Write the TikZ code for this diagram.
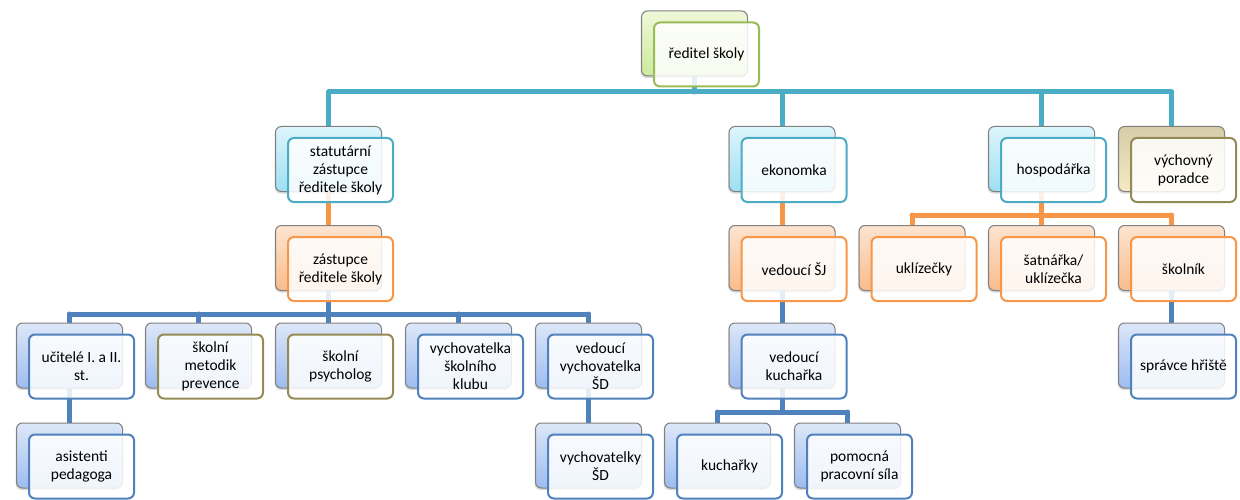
\documentclass[tikz,border=0pt]{standalone}
\usepackage{fontspec}
\setmainfont{Carlito}
\usetikzlibrary{backgrounds, shadows}

\definecolor{tealc}{HTML}{4BACC6}
\definecolor{orangec}{HTML}{F79646}
\definecolor{bluec}{HTML}{4F81BD}
\definecolor{greenc}{HTML}{9BBB59}
\definecolor{olivec}{HTML}{948A54}
\definecolor{tealtop}{HTML}{DDF5FC}
\definecolor{tealbot}{HTML}{9EDFF2}
\definecolor{orangetop}{HTML}{FDE4D0}
\definecolor{orangebot}{HTML}{F9BC8C}
\definecolor{bluetop}{HTML}{DDE7F8}
\definecolor{bluebot}{HTML}{9DBCF0}
\definecolor{greentop}{HTML}{EFF8D9}
\definecolor{greenbot}{HTML}{CCEA9C}
\definecolor{olivetop}{HTML}{D6CCA8}
\definecolor{olivebot}{HTML}{F6EAC4}

\begin{document}
\begin{tikzpicture}[x=1pt, y=-1pt,
          every node/.style={font=\fontsize{15.5}{18}\selectfont, align=center},
          backbox/.style 2 args={rectangle, rounded corners=6pt, draw=gray, line width=1pt,
            top color=#1, bottom color=#2, minimum width=106pt, minimum height=65pt,
            drop shadow={shadow xshift=-1pt, shadow yshift=-2pt, opacity=.3}},
          frontbox/.style={rectangle, rounded corners=6pt, draw=#1, line width=2pt,
            fill=white, fill opacity=.85, text opacity=1,
            minimum width=105pt, minimum height=64pt, inner sep=2pt},
          link/.style={line width=5pt, draw=#1, line cap=round},
        ]
          \useasboundingbox (0,0) rectangle (1240,500);
          % bus levels
          \coordinate (b1) at (0,92);
          \coordinate (b2) at (0,215);
          \coordinate (b3) at (0,314);
          \coordinate (b4) at (0,412);

          % back boxes
          \node[backbox={greentop}{greenbot}]   (red)   at (694.5, 43.5) {};
          \node[backbox={tealtop}{tealbot}]     (stat)  at (328.5,159)   {};
          \node[backbox={orangetop}{orangebot}] (zast)  at (328.5,258)   {};
          \node[backbox={bluetop}{bluebot}]     (ucit)  at (69.5, 355.5) {};
          \node[backbox={bluetop}{bluebot}]     (metod) at (198.5,355.5) {};
          \node[backbox={bluetop}{bluebot}]     (psych) at (328.5,355.5) {};
          \node[backbox={bluetop}{bluebot}]     (klub)  at (458.5,355.5) {};
          \node[backbox={bluetop}{bluebot}]     (vedv)  at (588.5,355.5) {};
          \node[backbox={bluetop}{bluebot}]     (asist) at (69.5, 455.5) {};
          \node[backbox={bluetop}{bluebot}]     (vychd) at (588.5,455.5) {};
          \node[backbox={tealtop}{tealbot}]     (ekon)  at (782,  159)   {};
          \node[backbox={orangetop}{orangebot}] (vedsj) at (782,  258)   {};
          \node[backbox={bluetop}{bluebot}]     (vedk)  at (782,  355.5) {};
          \node[backbox={bluetop}{bluebot}]     (kuch)  at (717.5,455.5) {};
          \node[backbox={bluetop}{bluebot}]     (pomoc) at (847.5,455.5) {};
          \node[backbox={tealtop}{tealbot}]     (hosp)  at (1041.5,159)  {};
          \node[backbox={olivetop}{olivebot}]   (vpor)  at (1171.5,159)  {};
          \node[backbox={orangetop}{orangebot}] (ukl)   at (912,  258)   {};
          \node[backbox={orangetop}{orangebot}] (satn)  at (1041.5,258)  {};
          \node[backbox={orangetop}{orangebot}] (skol)  at (1171.5,258)  {};
          \node[backbox={bluetop}{bluebot}]     (sprav) at (1171.5,355.5){};

          % front boxes
          \node[frontbox=greenc]  (red-t)   at ([shift={(12,11)}]red)   {ředitel školy};
          \node[frontbox=tealc]   (stat-t)  at ([shift={(12,11)}]stat)  {statutární\\zástupce\\ředitele školy};
          \node[frontbox=orangec] (zast-t)  at ([shift={(12,11)}]zast)  {zástupce\\ředitele školy};
          \node[frontbox=bluec]   (ucit-t)  at ([shift={(12,11)}]ucit)  {učitelé I. a II.\\st.};
          \node[frontbox=olivec]  (metod-t) at ([shift={(12,11)}]metod) {školní\\metodik\\prevence};
          \node[frontbox=olivec]  (psych-t) at ([shift={(12,11)}]psych) {školní\\psycholog};
          \node[frontbox=bluec]   (klub-t)  at ([shift={(12,11)}]klub)  {vychovatelka\\školního\\klubu};
          \node[frontbox=bluec]   (vedv-t)  at ([shift={(12,11)}]vedv)  {vedoucí\\vychovatelka\\ŠD};
          \node[frontbox=bluec]   (asist-t) at ([shift={(12,11)}]asist) {asistenti\\pedagoga};
          \node[frontbox=bluec]   (vychd-t) at ([shift={(12,11)}]vychd) {vychovatelky\\ŠD};
          \node[frontbox=tealc]   (ekon-t)  at ([shift={(12,11)}]ekon)  {ekonomka};
          \node[frontbox=orangec] (vedsj-t) at ([shift={(12,11)}]vedsj) {vedoucí ŠJ};
          \node[frontbox=bluec]   (vedk-t)  at ([shift={(12,11)}]vedk)  {vedoucí\\kuchařka};
          \node[frontbox=bluec]   (kuch-t)  at ([shift={(12,11)}]kuch)  {kuchařky};
          \node[frontbox=bluec]   (pomoc-t) at ([shift={(12,11)}]pomoc) {pomocná\\pracovní síla};
          \node[frontbox=tealc]   (hosp-t)  at ([shift={(12,11)}]hosp)  {hospodářka};
          \node[frontbox=olivec]  (vpor-t)  at ([shift={(12,11)}]vpor)  {výchovný\\poradce};
          \node[frontbox=orangec] (ukl-t)   at ([shift={(12,11)}]ukl)   {uklízečky};
          \node[frontbox=orangec] (satn-t)  at ([shift={(12,11)}]satn)  {šatnářka/\\uklízečka};
          \node[frontbox=orangec] (skol-t)  at ([shift={(12,11)}]skol)  {školník};
          \node[frontbox=bluec]   (sprav-t) at ([shift={(12,11)}]sprav) {správce hřiště};

          \begin{scope}[on background layer]
            % top level
            \draw[link=tealc] (red.center) -- (red |- b1);
            \draw[link=tealc] (stat |- b1) -- (vpor |- b1);
            \draw[link=tealc] (stat |- b1) -- (stat);
            \draw[link=tealc] (ekon |- b1) -- (ekon);
            \draw[link=tealc] (hosp |- b1) -- (hosp);
            \draw[link=tealc] (vpor |- b1) -- (vpor);
            % deputies and teachers
            \draw[link=orangec] (stat.center) -- (zast);
            \draw[link=bluec] (zast.center) -- (zast |- b3);
            \draw[link=bluec] (ucit |- b3) -- (vedv |- b3);
            \draw[link=bluec] (ucit |- b3) -- (ucit);
            \draw[link=bluec] (metod |- b3) -- (metod);
            \draw[link=bluec] (psych |- b3) -- (psych);
            \draw[link=bluec] (klub |- b3) -- (klub);
            \draw[link=bluec] (vedv |- b3) -- (vedv);
            \draw[link=bluec] (ucit.center) -- (asist);
            \draw[link=bluec] (vedv.center) -- (vychd);
            % kitchen
            \draw[link=orangec] (ekon.center) -- (vedsj);
            \draw[link=bluec] (vedsj.center) -- (vedk);
            \draw[link=bluec] (vedk.center) -- (vedk |- b4);
            \draw[link=bluec] (kuch |- b4) -- (pomoc |- b4);
            \draw[link=bluec] (kuch |- b4) -- (kuch);
            \draw[link=bluec] (pomoc |- b4) -- (pomoc);
            % caretaker
            \draw[link=orangec] (hosp.center) -- (hosp |- b2);
            \draw[link=orangec] (ukl |- b2) -- (skol |- b2);
            \draw[link=orangec] (ukl |- b2) -- (ukl);
            \draw[link=orangec] (satn |- b2) -- (satn);
            \draw[link=orangec] (skol |- b2) -- (skol);
            \draw[link=bluec] (skol.center) -- (sprav);
          \end{scope}
        \end{tikzpicture}
\end{document}
